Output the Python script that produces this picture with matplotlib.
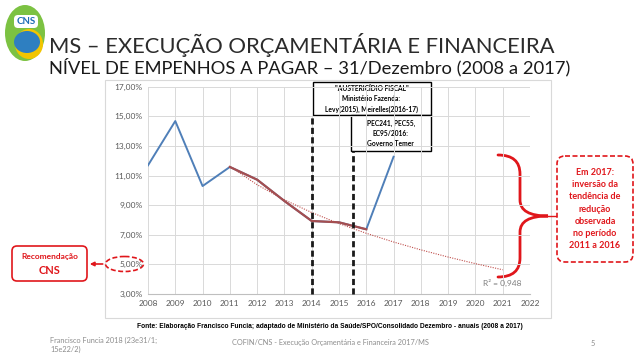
import numpy as np
import matplotlib.pyplot as plt
from matplotlib.patches import FancyBboxPatch, Ellipse, PathPatch, Rectangle
from matplotlib.path import Path

plt.rcParams['font.family'] = ['Lato', 'DejaVu Sans']

# data
anos = [2008, 2009, 2010, 2011, 2012, 2013, 2014, 2015, 2016, 2017]
nivel = [11.69, 14.68, 10.29, 11.58, 10.72, 9.28, 7.93, 7.84, 7.37, 12.27]
anos_queda = [2011, 2012, 2013, 2014, 2015, 2016]
nivel_queda = [11.58, 10.72, 9.28, 7.93, 7.84, 7.37]
anos_tend = [2011, 2012, 2013, 2014, 2015, 2016, 2017, 2018, 2019, 2020, 2021]
yticks = [3, 5, 7, 9, 11, 13, 15, 17]
xticks = list(range(2008, 2023))
marcos = [2014, 2015.5]

W, H = 640, 360
fig = plt.figure(figsize=(6.4, 3.6), dpi=100)
fig.patch.set_facecolor('white')

# overlay in pixel coordinates for slide decorations
ov = fig.add_axes([0, 0, 1, 1])
ov.set_xlim(0, W)
ov.set_ylim(H, 0)
ov.axis('off')

# chart frame
ov.add_patch(Rectangle((104.5, 80), 446, 238, fill=False, ec='#D9D9D9', lw=0.8))

# main axes
l, r, t, b = 148, 530, 86.7, 294
ax = fig.add_axes([l / W, 1 - b / H, (r - l) / W, (b - t) / H])
ax.set_xlim(2008, 2022)
ax.set_ylim(3, 17)
ax.set_xticks(xticks)
ax.set_yticks(yticks)
ax.set_xticklabels([str(a) for a in xticks], fontsize=6, color='#595959')
ax.set_yticklabels([f'{v:.2f}%'.replace('.', ',') for v in yticks], fontsize=6, color='#595959')
ax.tick_params(length=0, pad=4)
ax.grid(True, color='#D9D9D9', lw=0.7)
ax.set_axisbelow(True)
for s in ['top', 'right', 'left']:
    ax.spines[s].set_visible(False)
ax.spines['bottom'].set_color('#BFBFBF')
ax.patch.set_alpha(0)

ax.plot(anos, nivel, color='#4F7FB8', lw=1.4, zorder=3)
ax.plot(anos_queda, nivel_queda, color='#A54E50', lw=1.6, zorder=4)

# logarithmic trendline (Excel style, category index from 2008 = 1)
idx = np.array(anos_queda) - 2007
a, c = np.polyfit(np.log(idx), nivel_queda, 1)
xt = np.array(anos_tend)
ax.plot(xt, a * np.log(xt - 2007) + c, color='#C0504D', lw=0.8, ls=(0, (1, 1.2)), zorder=3)
ax.text(2021.0, 3.75, 'R² = 0,948', fontsize=6, color='#7F7F7F', ha='center', va='center')

# vertical markers
box_bottom = [115, 151]
for x, yb in zip(marcos, box_bottom):
    ytop = 17 - (yb - t) / (b - t) * 14
    ax.plot([x, x], [3, ytop], color='#1A1A1A', lw=2.0, ls=(0, (2.2, 1.2)), zorder=5,
            clip_on=False)

# annotation boxes
ov.add_patch(Rectangle((312.5, 82), 118, 33, fc='white', ec='black', lw=1.0, zorder=6))
ov.text(371.5, 99, '"AUSTERICÍDIO FISCAL"\nMinistério Fazenda:\nLevy(2015), Meirelles(2016-17)',
        ha='center', va='center', fontsize=4.8, fontweight='bold', linespacing=1.5, zorder=7)
ov.add_patch(Rectangle((351, 115), 79.5, 36, fc='white', ec='black', lw=1.0, zorder=6))
ov.text(390.75, 133, 'PEC241, PEC55,\nEC95/2016:\nGoverno Temer',
        ha='center', va='center', fontsize=4.8, fontweight='bold', linespacing=1.5, zorder=7)

red = '#E0161B'

# curly brace
verts = [(498, 155), (520, 155), (520, 174), (520, 200), (520, 216), (548, 216),
         (520, 216), (520, 232), (520, 258), (520, 277), (498, 277)]
codes = [Path.MOVETO, Path.CURVE3, Path.CURVE3, Path.LINETO, Path.CURVE3, Path.CURVE3,
         Path.CURVE3, Path.CURVE3, Path.LINETO, Path.CURVE3, Path.CURVE3]
ov.add_patch(PathPatch(Path(verts, codes), fill=False, ec=red, lw=2.0, capstyle='round'))
ov.plot([548, 556], [216, 216], color=red, lw=1.0)

ov.add_patch(FancyBboxPatch((557, 156), 76, 106, boxstyle='round,pad=0,rounding_size=8',
                            fc='white', ec=red, lw=1.2, ls=(0, (3, 1.5))))
ov.text(595, 209, 'Em 2017:\ninversão da\ntendência de\nredução\nobservada\nno período\n2011 a 2016',
        ha='center', va='center', fontsize=6.5, fontweight='bold', color=red, linespacing=1.45)

# CNS recommendation
ov.add_patch(Ellipse((124.5, 264), 38, 15, fill=False, ec=red, lw=1.2, ls=(0, (3, 1.5))))
ov.annotate('', xy=(87, 264), xytext=(105.5, 264),
            arrowprops=dict(arrowstyle='-|>', color=red, lw=1.2, mutation_scale=6))
ov.add_patch(FancyBboxPatch((12, 246), 75, 35, boxstyle='round,pad=0,rounding_size=5',
                            fc='white', ec=red, lw=1.2))
ov.text(49.5, 256, 'Recomendação', ha='center', va='center', fontsize=6, fontweight='bold', color=red)
ov.text(49.5, 271, 'CNS', ha='center', va='center', fontsize=8, fontweight='bold', color=red)

# logo
ov.add_patch(Ellipse((25, 33), 40, 56, fc='#7CC242', ec='none'))
ov.add_patch(Ellipse((29, 44), 28, 30, fc='#F2C500', ec='none'))
ov.add_patch(Ellipse((27, 42), 26, 22, fc='#2E7FC1', ec='none'))
ov.add_patch(FancyBboxPatch((14, 15), 24, 13, boxstyle='round,pad=0,rounding_size=4',
                            fc='white', ec='none'))
ov.text(26, 21.5, 'CNS', ha='center', va='center', fontsize=7, fontweight='bold', color='#1F6DB5')

# titles
ov.text(49, 45, 'MS – EXECUÇÃO ORÇAMENTÁRIA E FINANCEIRA', ha='left', va='center',
        fontsize=15.8, color='#2B2B2B')
ov.text(49, 67, 'NÍVEL DE EMPENHOS A PAGAR – 31/Dezembro (2008 a 2017)', ha='left', va='center',
        fontsize=13.2, color='#1A1A1A')

# source and footer
ov.text(330, 326, 'Fonte: Elaboração Francisco Funcia; adaptado de Ministério da Saúde/SPO/Consolidado Dezembro - anuais (2008 a 2017)',
        ha='center', va='center', fontsize=4.8, fontweight='bold', family=['Liberation Sans', 'DejaVu Sans'])
ov.text(50, 345, 'Francisco Funcia 2018 (23e31/1;\n15e22/2)', ha='left', va='center',
        fontsize=5.3, color='#8C8C8C', linespacing=1.3)
ov.text(330, 343, 'COFIN/CNS - Execução Orçamentária e Financeira 2017/MS', ha='center', va='center',
        fontsize=5.3, color='#8C8C8C')
ov.text(593, 343, '5', ha='center', va='center', fontsize=5.3, color='#8C8C8C')

fig.savefig('out.png', dpi=100)
